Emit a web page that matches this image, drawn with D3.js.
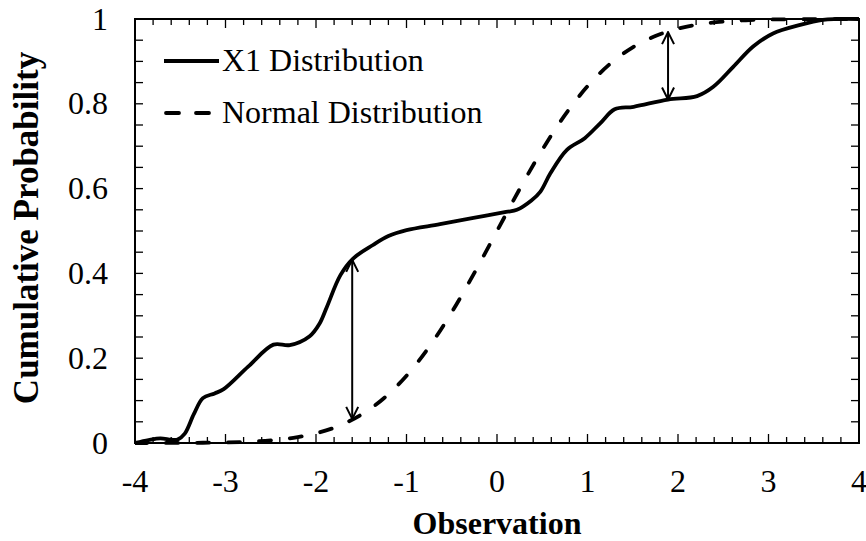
<!DOCTYPE html>
<html>
<head>
<meta charset="utf-8">
<script src="https://cdn.jsdelivr.net/npm/d3@7"></script>
<style>
  html, body { margin: 0; padding: 0; background: #fff; }
  svg { display: block; }
</style>
</head>
<body>
<svg id="chart" width="866" height="541"></svg>
<script>
// ---- data ----
const x1X = [-4.00, -3.85, -3.72, -3.60, -3.53, -3.45, -3.35, -3.25, -3.12, -3.02, -2.75, -2.47, -2.29, -2.07, -1.96, -1.88, -1.73, -1.59, -1.37, -1.20, -1.00, -0.63, -0.26, 0.10, 0.22, 0.38, 0.48, 0.59, 0.77, 0.97, 1.14, 1.30, 1.51, 1.89, 2.21, 2.39, 2.61, 2.83, 3.05, 3.35, 3.60, 3.75, 4.00];
const x1P = [0.000, 0.007, 0.011, 0.008, 0.008, 0.022, 0.068, 0.106, 0.117, 0.127, 0.180, 0.232, 0.231, 0.252, 0.282, 0.321, 0.396, 0.435, 0.467, 0.488, 0.502, 0.516, 0.531, 0.545, 0.550, 0.572, 0.593, 0.636, 0.691, 0.719, 0.754, 0.787, 0.793, 0.810, 0.818, 0.840, 0.887, 0.935, 0.966, 0.986, 0.998, 1.000, 1.000];

const normX = [-4.00, -3.75, -3.50, -3.25, -3.00, -2.75, -2.50, -2.25, -2.00, -1.75, -1.50, -1.25, -1.00, -0.75, -0.50, -0.25, 0.00, 0.25, 0.50, 0.75, 1.00, 1.25, 1.50, 1.75, 2.00, 2.25, 2.50, 2.75, 3.00, 3.25, 3.50, 3.75, 4.00];
const normP = [0.0000, 0.0001, 0.0002, 0.0006, 0.0013, 0.0030, 0.0062, 0.0122, 0.0228, 0.0401, 0.0668, 0.1056, 0.1587, 0.2266, 0.3085, 0.4013, 0.5000, 0.5987, 0.6915, 0.7734, 0.8413, 0.8944, 0.9332, 0.9599, 0.9772, 0.9878, 0.9938, 0.9970, 0.9987, 0.9994, 0.9998, 0.9999, 1.0000];

// difference arrows: x position, lower and upper probability
const arrowX = [-1.60, 1.89];
const arrowLo = [0.057, 0.810];
const arrowHi = [0.432, 0.969];

const xTickValues = [-4, -3, -2, -1, 0, 1, 2, 3, 4];
const xTickLabels = ["-4", "-3", "-2", "-1", "0", "1", "2", "3", "4"];
const yTickValues = [0, 0.2, 0.4, 0.6, 0.8, 1];
const yTickLabels = ["0", "0.2", "0.4", "0.6", "0.8", "1"];
const seriesNames = ["X1 Distribution", "Normal Distribution"];
const xTitle = "Observation";
const yTitle = "Cumulative Probability";

// ---- layout ----
const FONT = '"Liberation Serif", "Times New Roman", Times, serif';
const svg = d3.select("#chart");
const L = 135, R = 859, T = 19, B = 443;
const x = d3.scaleLinear().domain([-4, 4]).range([L, R]);
const y = d3.scaleLinear().domain([0, 1]).range([B, T]);

const defs = svg.append("defs");
defs.append("clipPath").attr("id", "plotclip")
  .append("rect").attr("x", L).attr("y", T - 3).attr("width", R - L).attr("height", B - T + 6);
const mk = defs.append("marker").attr("id", "arrowhead")
  .attr("viewBox", "0 0 14 14").attr("refX", 13).attr("refY", 7)
  .attr("markerWidth", 14).attr("markerHeight", 14).attr("markerUnits", "userSpaceOnUse")
  .attr("orient", "auto-start-reverse");
mk.append("path").attr("d", "M1,1 L13,7 L1,13").attr("fill", "none")
  .attr("stroke", "#000").attr("stroke-width", 2);

// ---- ticks (inward on all four sides) ----
const minorX = d3.range(-4, 4.001, 0.2).map(v => +v.toFixed(2));
const minorY = d3.range(0, 1.0001, 0.05).map(v => +v.toFixed(2));
const tickG = svg.append("g").attr("stroke", "#000").attr("stroke-width", 1.3);
minorX.forEach(v => {
  const major = Math.abs(v - Math.round(v)) < 1e-6;
  const len = major ? 9 : 6;
  tickG.append("line").attr("x1", x(v)).attr("x2", x(v)).attr("y1", B).attr("y2", B - len);
  tickG.append("line").attr("x1", x(v)).attr("x2", x(v)).attr("y1", T).attr("y2", T + len);
});
minorY.forEach(v => {
  const len = 8;
  tickG.append("line").attr("x1", L).attr("x2", L + len).attr("y1", y(v)).attr("y2", y(v));
  tickG.append("line").attr("x1", R).attr("x2", R - len).attr("y1", y(v)).attr("y2", y(v));
});

// ---- tick labels ----
svg.append("g").selectAll("text").data(xTickValues).join("text")
  .style("font-family", FONT).style("font-size", "32px")
  .attr("x", d => x(d)).attr("y", 492)
  .attr("text-anchor", "middle")
  .text((d, i) => xTickLabels[i]);
svg.append("g").selectAll("text").data(yTickValues).join("text")
  .style("font-family", FONT).style("font-size", "32px")
  .attr("x", 108).attr("y", d => y(d)).attr("dy", "0.33em")
  .attr("text-anchor", "end")
  .text((d, i) => yTickLabels[i]);

// ---- axis titles ----
svg.append("text").style("font-family", FONT).style("font-size", "32px").style("font-weight", "bold")
  .attr("x", x(0)).attr("y", 534)
  .attr("text-anchor", "middle")
  .text(xTitle);
svg.append("text").style("font-family", FONT).style("font-size", "35px").style("font-weight", "bold")
  .attr("transform", "translate(38,228) rotate(-90)")
  .attr("text-anchor", "middle")
  .text(yTitle);

// ---- series ----
const plot = svg.append("g").attr("clip-path", "url(#plotclip)");
const lineSmooth = d3.line().x(d => x(d[0])).y(d => y(d[1])).curve(d3.curveCatmullRom.alpha(0.5));
const lineMono = d3.line().x(d => x(d[0])).y(d => y(d[1])).curve(d3.curveMonotoneX);
const x1Data = x1X.map((v, i) => [v, x1P[i]]);
const normData = normX.map((v, i) => [v, normP[i]]);

plot.append("path").datum(normData).attr("d", lineMono)
  .attr("fill", "none").attr("stroke", "#000").attr("stroke-width", 3.8)
  .attr("stroke-dasharray", "12,19").attr("stroke-linecap", "round");
plot.append("path").datum(x1Data).attr("d", lineSmooth)
  .attr("fill", "none").attr("stroke", "#000").attr("stroke-width", 3.8)
  .attr("stroke-linejoin", "round");

// ---- arrows ----
arrowX.forEach((ax, i) => {
  svg.append("line")
    .attr("x1", x(ax)).attr("x2", x(ax))
    .attr("y1", y(arrowLo[i])).attr("y2", y(arrowHi[i]))
    .attr("stroke", "#000").attr("stroke-width", 2)
    .attr("marker-start", "url(#arrowhead)").attr("marker-end", "url(#arrowhead)");
});

// ---- frame ----
svg.append("rect").attr("x", L).attr("y", T).attr("width", R - L).attr("height", B - T)
  .attr("fill", "none").attr("stroke", "#000").attr("stroke-width", 2);

// ---- legend ----
const leg = svg.append("g");
leg.append("line").attr("x1", 164).attr("x2", 219).attr("y1", 61).attr("y2", 61)
  .attr("stroke", "#000").attr("stroke-width", 3.8);
leg.append("text").style("font-family", FONT).style("font-size", "32px")
  .attr("x", 222).attr("y", 71).text(seriesNames[0]);
leg.append("line").attr("x1", 166).attr("x2", 219).attr("y1", 113).attr("y2", 113)
  .attr("stroke", "#000").attr("stroke-width", 3.8)
  .attr("stroke-dasharray", "13,17").attr("stroke-linecap", "round");
leg.append("text").style("font-family", FONT).style("font-size", "32px")
  .attr("x", 222).attr("y", 123).text(seriesNames[1]);
</script>
</body>
</html>
